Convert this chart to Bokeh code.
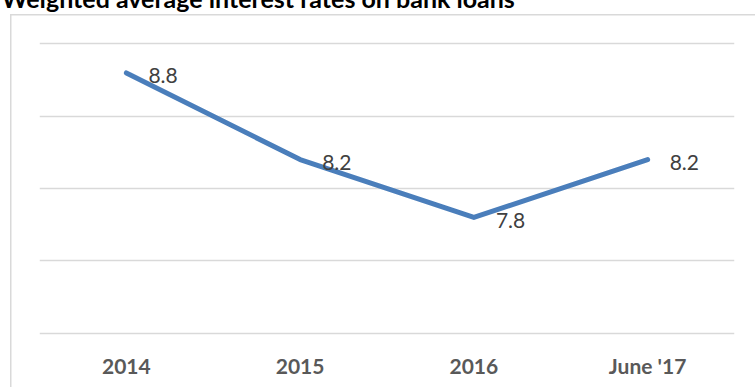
from bokeh.plotting import figure
from bokeh.models import FactorRange, Range1d, FixedTicker, Title, ColumnDataSource
from bokeh.core.properties import value
from bokeh.embed import file_html
from bokeh.resources import INLINE

title_text = "Weighted average interest rates on bank loans"
categories = ["2014", "2015", "2016", "June '17"]
rates = [8.8, 8.2, 7.8, 8.2]
rate_labels = ["8.8", "8.2", "7.8", "8.2"]
grid_ticks = [7.0, 7.5, 8.0, 8.5, 9.0]

LINE_COLOR = "#4a7ebb"
GRID_COLOR = "#d9d9d9"
SHIFT = 47  # canvas is shifted up so the title's top is cut as in the reference

p = figure(
    width=755, height=387 + SHIFT,
    x_range=FactorRange(*categories),
    y_range=Range1d(6.9827, 9.0242),
    output_backend="svg", toolbar_location=None,
    min_border_left=39, min_border_right=21,
    min_border_top=40 + SHIFT, min_border_bottom=52,
)
p.title = Title(text=title_text, align="left", offset=-38, standoff=55,
                text_font="Lato", text_font_style="bold",
                text_font_size="25px", text_color="black",
                vertical_align="bottom")
p.outline_line_color = None
p.background_fill_color = None
p.border_fill_color = None
bt = 14 + SHIFT
p.styles = {
    "margin-top": f"-{SHIFT}px",
    "background": (f"linear-gradient({GRID_COLOR},{GRID_COLOR}) 10px {bt}px / 1.5px 100% no-repeat, "
                   f"linear-gradient({GRID_COLOR},{GRID_COLOR}) 10px {bt}px / 100% 1.5px no-repeat, white"),
}

p.yaxis.visible = False
p.yaxis.ticker = FixedTicker(ticks=grid_ticks)
p.ygrid.ticker = FixedTicker(ticks=grid_ticks)
p.ygrid.grid_line_color = GRID_COLOR
p.ygrid.grid_line_width = 1.5
p.xgrid.grid_line_color = None

xa = p.xaxis[0]
xa.axis_line_color = None
xa.major_tick_line_color = None
xa.minor_tick_line_color = None
xa.major_tick_out = 0
xa.major_tick_in = 0
xa.major_label_standoff = 17
xa.major_label_text_font = "Lato"
xa.major_label_text_font_style = "bold"
xa.major_label_text_font_size = "21px"
xa.major_label_text_color = "#595959"

src = ColumnDataSource(dict(cat=categories, rate=rates, lab=rate_labels))

p.line(x="cat", y="rate", source=src, line_color=LINE_COLOR, line_width=5,
       line_cap="round", line_join="round")

p.text(x="cat", y="rate", text="lab", source=src,
       x_offset=22, y_offset=3,
       text_align="left", text_baseline="middle",
       text_font=value("Lato"), text_font_size="21px", text_color="#404040")

open("out.html", "w").write(file_html(p, INLINE))
